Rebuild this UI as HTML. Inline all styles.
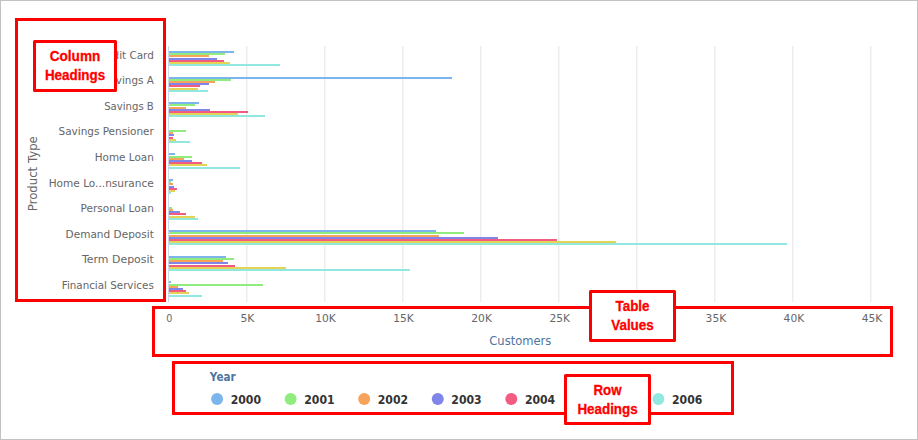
<!DOCTYPE html>
<html lang="en"><head><meta charset="utf-8"><title>Chart</title>
<style>
html,body{margin:0;padding:0;background:#fff;}
body{width:918px;height:440px;overflow:hidden;position:relative;}
#frame{position:absolute;left:0;top:0;width:916px;height:438px;border:1px solid #c2c2c2;background:#fff;}
svg{position:absolute;left:0;top:0;}
.ax{font-family:"DejaVu Sans", "Liberation Sans", sans-serif;font-size:11px;fill:#666;}
.ttl{font-family:"DejaVu Sans", "Liberation Sans", sans-serif;font-size:12px;}
.lg{font-family:"DejaVu Sans", "Liberation Sans", sans-serif;font-size:12px;font-weight:bold;fill:#333;}
.red{font-family:"Liberation Sans", sans-serif;font-weight:bold;fill:#ff0000;font-size:14px;stroke:#ff0000;stroke-width:0.3px;}
</style></head><body>
<div id="frame"></div>
<svg width="918" height="440" viewBox="0 0 918 440">

<rect x="246" y="46" width="1" height="256" fill="#ededed"/><rect x="247" y="46" width="1" height="256" fill="#f6f6f6"/>
<rect x="324" y="46" width="1" height="256" fill="#ededed"/><rect x="325" y="46" width="1" height="256" fill="#f6f6f6"/>
<rect x="402" y="46" width="1" height="256" fill="#ededed"/><rect x="403" y="46" width="1" height="256" fill="#f6f6f6"/>
<rect x="480" y="46" width="1" height="256" fill="#ededed"/><rect x="481" y="46" width="1" height="256" fill="#f6f6f6"/>
<rect x="558" y="46" width="1" height="256" fill="#ededed"/><rect x="559" y="46" width="1" height="256" fill="#f6f6f6"/>
<rect x="636" y="46" width="1" height="256" fill="#ededed"/><rect x="637" y="46" width="1" height="256" fill="#f6f6f6"/>
<rect x="714" y="46" width="1" height="256" fill="#ededed"/><rect x="715" y="46" width="1" height="256" fill="#f6f6f6"/>
<rect x="792" y="46" width="1" height="256" fill="#ededed"/><rect x="793" y="46" width="1" height="256" fill="#f6f6f6"/>
<rect x="870" y="46" width="1" height="256" fill="#ededed"/><rect x="871" y="46" width="1" height="256" fill="#f6f6f6"/>
<rect x="168" y="46" width="1" height="256" fill="#ccd6eb"/>
<rect x="169" y="51" width="65" height="2" fill="#7cb5ec"/>
<rect x="169" y="53" width="56" height="2" fill="#90ed7d"/>
<rect x="169" y="55" width="40" height="2" fill="#f7a35c"/>
<rect x="169" y="58" width="48" height="2" fill="#8085e9"/>
<rect x="169" y="60" width="55" height="2" fill="#f15c80"/>
<rect x="169" y="62" width="61" height="2" fill="#e4d354"/>
<rect x="169" y="64" width="111" height="2" fill="#91e8e1"/>
<rect x="169" y="77" width="283" height="2" fill="#7cb5ec"/>
<rect x="169" y="79" width="62" height="2" fill="#90ed7d"/>
<rect x="169" y="81" width="46" height="2" fill="#f7a35c"/>
<rect x="169" y="83" width="40" height="2" fill="#8085e9"/>
<rect x="169" y="85" width="31" height="2" fill="#f15c80"/>
<rect x="169" y="88" width="29" height="2" fill="#e4d354"/>
<rect x="169" y="90" width="39" height="2" fill="#91e8e1"/>
<rect x="169" y="102" width="30" height="2" fill="#7cb5ec"/>
<rect x="169" y="104" width="26" height="2" fill="#90ed7d"/>
<rect x="169" y="107" width="17" height="2" fill="#f7a35c"/>
<rect x="169" y="109" width="41" height="2" fill="#8085e9"/>
<rect x="169" y="111" width="79" height="2" fill="#f15c80"/>
<rect x="169" y="113" width="69" height="2" fill="#e4d354"/>
<rect x="169" y="115" width="96" height="2" fill="#91e8e1"/>
<rect x="169" y="130" width="17" height="2" fill="#90ed7d"/>
<rect x="169" y="132" width="4" height="2" fill="#f7a35c"/>
<rect x="169" y="134" width="5" height="2" fill="#8085e9"/>
<rect x="169" y="137" width="4" height="2" fill="#f15c80"/>
<rect x="169" y="139" width="7" height="2" fill="#e4d354"/>
<rect x="169" y="141" width="21" height="2" fill="#91e8e1"/>
<rect x="169" y="153" width="6" height="2" fill="#7cb5ec"/>
<rect x="169" y="156" width="23" height="2" fill="#90ed7d"/>
<rect x="169" y="158" width="15" height="2" fill="#f7a35c"/>
<rect x="169" y="160" width="23" height="2" fill="#8085e9"/>
<rect x="169" y="162" width="33" height="2" fill="#f15c80"/>
<rect x="169" y="164" width="38" height="2" fill="#e4d354"/>
<rect x="169" y="167" width="71" height="2" fill="#91e8e1"/>
<rect x="169" y="179" width="4" height="2" fill="#7cb5ec"/>
<rect x="169" y="181" width="2" height="2" fill="#90ed7d"/>
<rect x="169" y="183" width="4" height="2" fill="#f7a35c"/>
<rect x="169" y="186" width="5" height="2" fill="#8085e9"/>
<rect x="169" y="188" width="8" height="2" fill="#f15c80"/>
<rect x="169" y="190" width="6" height="2" fill="#e4d354"/>
<rect x="169" y="192" width="2" height="2" fill="#91e8e1"/>
<rect x="169" y="207" width="3" height="2" fill="#90ed7d"/>
<rect x="169" y="209" width="4" height="2" fill="#f7a35c"/>
<rect x="169" y="211" width="11" height="2" fill="#8085e9"/>
<rect x="169" y="213" width="17" height="2" fill="#f15c80"/>
<rect x="169" y="216" width="26" height="2" fill="#e4d354"/>
<rect x="169" y="218" width="29" height="2" fill="#91e8e1"/>
<rect x="169" y="230" width="267" height="2" fill="#7cb5ec"/>
<rect x="169" y="232" width="295" height="2" fill="#90ed7d"/>
<rect x="169" y="235" width="270" height="2" fill="#f7a35c"/>
<rect x="169" y="237" width="329" height="2" fill="#8085e9"/>
<rect x="169" y="239" width="388" height="2" fill="#f15c80"/>
<rect x="169" y="241" width="447" height="2" fill="#e4d354"/>
<rect x="169" y="243" width="618" height="2" fill="#91e8e1"/>
<rect x="169" y="256" width="57" height="2" fill="#7cb5ec"/>
<rect x="169" y="258" width="65" height="2" fill="#90ed7d"/>
<rect x="169" y="260" width="54" height="2" fill="#f7a35c"/>
<rect x="169" y="262" width="59" height="2" fill="#8085e9"/>
<rect x="169" y="265" width="66" height="2" fill="#f15c80"/>
<rect x="169" y="267" width="117" height="2" fill="#e4d354"/>
<rect x="169" y="269" width="241" height="2" fill="#91e8e1"/>
<rect x="169" y="281" width="2" height="2" fill="#7cb5ec"/>
<rect x="169" y="284" width="94" height="2" fill="#90ed7d"/>
<rect x="169" y="286" width="9" height="2" fill="#f7a35c"/>
<rect x="169" y="288" width="14" height="2" fill="#8085e9"/>
<rect x="169" y="290" width="17" height="2" fill="#f15c80"/>
<rect x="169" y="292" width="20" height="2" fill="#e4d354"/>
<rect x="169" y="295" width="33" height="2" fill="#91e8e1"/>
<text class="ax" x="94.8" y="58.6" textLength="59.0" lengthAdjust="spacingAndGlyphs">Credit Card</text>
<text class="ax" x="102.8" y="84.2" textLength="51.0" lengthAdjust="spacingAndGlyphs">Savings A</text>
<text class="ax" x="104.2" y="109.8" textLength="49.6" lengthAdjust="spacingAndGlyphs">Savings B</text>
<text class="ax" x="58.5" y="135.4" textLength="95.3" lengthAdjust="spacingAndGlyphs">Savings Pensioner</text>
<text class="ax" x="94.7" y="161.0" textLength="59.1" lengthAdjust="spacingAndGlyphs">Home Loan</text>
<text class="ax" x="48.7" y="186.6" textLength="105.1" lengthAdjust="spacingAndGlyphs">Home Lo...nsurance</text>
<text class="ax" x="80.6" y="212.2" textLength="73.2" lengthAdjust="spacingAndGlyphs">Personal Loan</text>
<text class="ax" x="65.6" y="237.8" textLength="88.2" lengthAdjust="spacingAndGlyphs">Demand Deposit</text>
<text class="ax" x="82.0" y="263.4" textLength="71.8" lengthAdjust="spacingAndGlyphs">Term Deposit</text>
<text class="ax" x="61.7" y="289.0" textLength="92.1" lengthAdjust="spacingAndGlyphs">Financial Services</text>
<text class="ax" x="166.2" y="322" textLength="6.1" lengthAdjust="spacingAndGlyphs">0</text>
<text class="ax" x="240.4" y="322" textLength="14.0" lengthAdjust="spacingAndGlyphs">5K</text>
<text class="ax" x="315.2" y="322" textLength="20.6" lengthAdjust="spacingAndGlyphs">10K</text>
<text class="ax" x="393.2" y="322" textLength="20.6" lengthAdjust="spacingAndGlyphs">15K</text>
<text class="ax" x="471.3" y="322" textLength="20.6" lengthAdjust="spacingAndGlyphs">20K</text>
<text class="ax" x="549.4" y="322" textLength="20.6" lengthAdjust="spacingAndGlyphs">25K</text>
<text class="ax" x="627.5" y="322" textLength="20.6" lengthAdjust="spacingAndGlyphs">30K</text>
<text class="ax" x="705.6" y="322" textLength="20.6" lengthAdjust="spacingAndGlyphs">35K</text>
<text class="ax" x="783.6" y="322" textLength="20.6" lengthAdjust="spacingAndGlyphs">40K</text>
<text class="ax" x="861.7" y="322" textLength="20.6" lengthAdjust="spacingAndGlyphs">45K</text>
<text class="ttl" x="489.3" y="344.6" textLength="62" lengthAdjust="spacingAndGlyphs" fill="#4d759e">Customers</text>
<text class="ttl" transform="translate(36.5,211.2) rotate(-90)" textLength="75" lengthAdjust="spacingAndGlyphs" fill="#666">Product Type</text>
<text class="lg" x="209.8" y="380.7" textLength="25.8" lengthAdjust="spacingAndGlyphs" style="fill:#4d759e">Year</text>
<circle cx="217.10" cy="399" r="6" fill="#7cb5ec"/>
<text class="lg" x="230.70" y="403.6" textLength="30.3" lengthAdjust="spacingAndGlyphs">2000</text>
<circle cx="290.65" cy="399" r="6" fill="#90ed7d"/>
<text class="lg" x="304.25" y="403.6" textLength="30.3" lengthAdjust="spacingAndGlyphs">2001</text>
<circle cx="364.20" cy="399" r="6" fill="#f7a35c"/>
<text class="lg" x="377.80" y="403.6" textLength="30.3" lengthAdjust="spacingAndGlyphs">2002</text>
<circle cx="437.75" cy="399" r="6" fill="#8085e9"/>
<text class="lg" x="451.35" y="403.6" textLength="30.3" lengthAdjust="spacingAndGlyphs">2003</text>
<circle cx="511.30" cy="399" r="6" fill="#f15c80"/>
<text class="lg" x="524.90" y="403.6" textLength="30.3" lengthAdjust="spacingAndGlyphs">2004</text>
<circle cx="584.85" cy="399" r="6" fill="#e4d354"/>
<text class="lg" x="598.45" y="403.6" textLength="30.3" lengthAdjust="spacingAndGlyphs">2005</text>
<circle cx="658.40" cy="399" r="6" fill="#91e8e1"/>
<text class="lg" x="672.00" y="403.6" textLength="30.3" lengthAdjust="spacingAndGlyphs">2006</text>
<rect x="16.5" y="19.5" width="148.0" height="281.0" fill="none" stroke="#ff0000" stroke-width="3" stroke-linejoin="miter"/>
<rect x="153.5" y="307.5" width="738.0" height="48.0" fill="none" stroke="#ff0000" stroke-width="3" stroke-linejoin="miter"/>
<rect x="173.5" y="362.5" width="559.0" height="51.0" fill="none" stroke="#ff0000" stroke-width="3" stroke-linejoin="miter"/>
<rect x="34.5" y="41.5" width="81.0" height="49.0" fill="#ffffff" stroke="#ff0000" stroke-width="3" stroke-linejoin="round"/>
<text class="red" x="49.7" y="60.6" textLength="50.6" lengthAdjust="spacingAndGlyphs">Column</text>
<text class="red" x="44.9" y="79.5" textLength="60.3" lengthAdjust="spacingAndGlyphs">Headings</text>
<rect x="590.5" y="291.5" width="84.0" height="49.0" fill="#ffffff" stroke="#ff0000" stroke-width="3" stroke-linejoin="round"/>
<text class="red" x="615.5" y="310.6" textLength="34.0" lengthAdjust="spacingAndGlyphs">Table</text>
<text class="red" x="611.2" y="329.5" textLength="42.6" lengthAdjust="spacingAndGlyphs">Values</text>
<rect x="565.5" y="375.5" width="84.0" height="48.0" fill="#ffffff" stroke="#ff0000" stroke-width="3" stroke-linejoin="round"/>
<text class="red" x="593.5" y="394.6" textLength="28.1" lengthAdjust="spacingAndGlyphs">Row</text>
<text class="red" x="577.4" y="413.5" textLength="60.3" lengthAdjust="spacingAndGlyphs">Headings</text>
</svg></body></html>
